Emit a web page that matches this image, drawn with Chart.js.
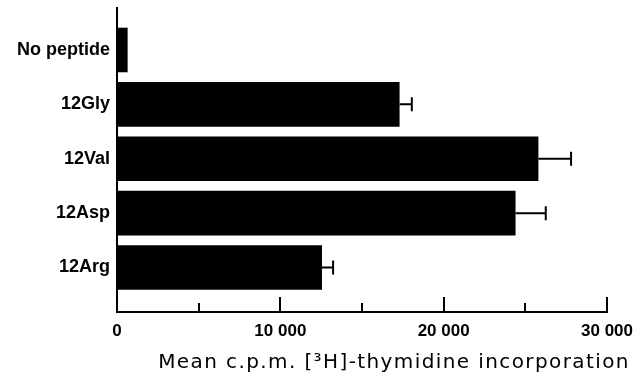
<!DOCTYPE html>
<html>
<head>
<meta charset="utf-8">
<script src="https://cdn.jsdelivr.net/npm/chart.js@4/dist/chart.umd.min.js"></script>
<style>
  html, body { margin: 0; padding: 0; background: #fff; }
  #wrap { width: 644px; height: 376px; position: relative; }
</style>
</head>
<body>
<div id="wrap"><canvas id="chart"></canvas></div>
<script>
// peptide groups, top to bottom
const categories = ['No peptide', '12Gly', '12Val', '12Asp', '12Arg'];
// mean c.p.m. and error bar length
const meanCpm = [650, 17300, 25800, 24400, 12550];
const errCpm  = [null, 750, 2000, 1850, 680];
// x axis: ticks every 5000, labels every 10 000
const X_MAX = 30000;
const X_STEP = 5000;
const X_LABEL_EVERY = 10000;
const X_TITLE = 'Mean c.p.m. [\u00B3H]-thymidine incorporation';

const LABEL_FONT = "'Liberation Sans', Arial, sans-serif";

function fmtCpm(v) {
  if (v % X_LABEL_EVERY !== 0) return '';
  return v === 0 ? '0' : (v / 1000) + ' 000';
}

// error bars: line from the bar end with a vertical cap
const errorBars = {
  id: 'errorBars',
  afterDatasetsDraw(chart) {
    const { ctx, scales: { x } } = chart;
    const meta = chart.getDatasetMeta(0);
    ctx.save();
    ctx.strokeStyle = '#000';
    ctx.lineWidth = 2;
    meta.data.forEach((bar, i) => {
      if (!errCpm[i]) return;
      const x1 = x.getPixelForValue(meanCpm[i] + errCpm[i]);
      ctx.beginPath();
      ctx.moveTo(bar.x, bar.y);
      ctx.lineTo(x1, bar.y);
      ctx.moveTo(x1, bar.y - 7);
      ctx.lineTo(x1, bar.y + 7);
      ctx.stroke();
    });
    ctx.restore();
  }
};

// tick marks point up into the plot, long at labelled values
const ticksInside = {
  id: 'ticksInside',
  afterDraw(chart) {
    const { ctx, chartArea, scales: { x } } = chart;
    ctx.save();
    ctx.strokeStyle = '#000';
    ctx.lineWidth = 2;
    x.ticks.forEach(t => {
      if (t.value === 0) return;
      const px = Math.round(x.getPixelForValue(t.value));
      const len = t.value % X_LABEL_EVERY === 0 ? 15 : 9;
      ctx.beginPath();
      ctx.moveTo(px, chartArea.bottom);
      ctx.lineTo(px, chartArea.bottom - len);
      ctx.stroke();
    });
    ctx.restore();
  }
};

// axis title, sits a bit right of the plot centre in the original
const xTitle = {
  id: 'xTitle',
  afterDraw(chart) {
    const { ctx } = chart;
    ctx.save();
    ctx.fillStyle = '#000';
    ctx.font = "20px 'DejaVu Sans', sans-serif";
    ctx.letterSpacing = '1.4px';
    ctx.textAlign = 'center';
    ctx.textBaseline = 'alphabetic';
    ctx.fillText(X_TITLE, 394, 368);
    ctx.restore();
  }
};

new Chart(document.getElementById('chart'), {
  type: 'bar',
  data: {
    datasets: [{
      data: categories.map((c, i) => ({ x: meanCpm[i], y: i })),
      backgroundColor: '#000',
      borderWidth: 0,
      barPercentage: 0.82,
      categoryPercentage: 1,
    }]
  },
  options: {
    indexAxis: 'y',
    responsive: true,
    maintainAspectRatio: false,
    animation: false,
    layout: { padding: { top: 8, right: 37, left: 0, bottom: 0 } },
    plugins: {
      legend: { display: false },
      tooltip: { enabled: false },
    },
    scales: {
      x: {
        type: 'linear',
        min: 0,
        max: X_MAX,
        ticks: {
          stepSize: X_STEP,
          autoSkip: false,
          maxRotation: 0,
          padding: 9,
          color: '#000',
          font: { family: LABEL_FONT, size: 17, weight: 'bold' },
          callback: v => fmtCpm(v),
        },
        grid: { display: false, drawTicks: false },
        border: { display: true, color: '#000', width: 2 },
        afterFit: s => { s.height = 64; },
      },
      y: {
        type: 'linear',
        reverse: true,
        offset: false,
        min: -0.772,
        max: 4.818,
        afterBuildTicks: s => { s.ticks = categories.map((c, i) => ({ value: i })); },
        ticks: {
          padding: 7,
          color: '#000',
          font: { family: LABEL_FONT, size: 18, weight: 'bold' },
          callback: v => categories[v],
        },
        grid: { display: false, drawTicks: false, offset: false },
        border: { display: true, color: '#000', width: 2 },
        afterFit: s => {
          s.width = 117;
          s.paddingTop = 0;
          s.paddingBottom = 0;
        },
      },
    },
  },
  plugins: [errorBars, ticksInside, xTitle],
});
</script>
</body>
</html>
